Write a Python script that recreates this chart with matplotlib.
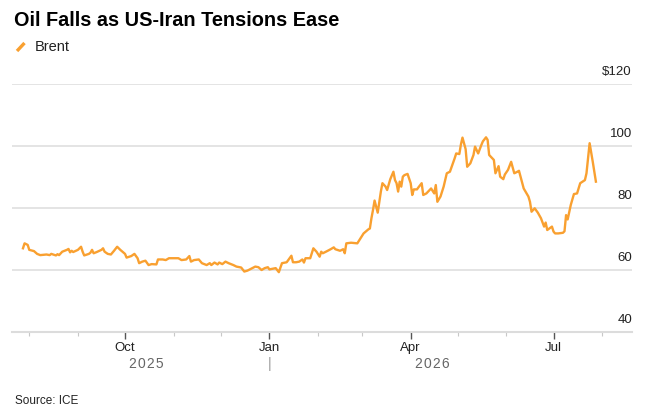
import matplotlib
matplotlib.use('Agg')
import matplotlib.pyplot as plt
import matplotlib.dates as mdates
import matplotlib.transforms as mtransforms
from matplotlib.lines import Line2D
import pandas as pd

# Brent daily close
dates = [
    '2025-07-28', '2025-07-29', '2025-07-31', '2025-08-01', '2025-08-04', '2025-08-06', '2025-08-08',
    '2025-08-12', '2025-08-14', '2025-08-15', '2025-08-18', '2025-08-19', '2025-08-20', '2025-08-22',
    '2025-08-25', '2025-08-26', '2025-08-27', '2025-08-28', '2025-08-29', '2025-09-01', '2025-09-03',
    '2025-09-04', '2025-09-05', '2025-09-08', '2025-09-09', '2025-09-10', '2025-09-11', '2025-09-13',
    '2025-09-16', '2025-09-17', '2025-09-18', '2025-09-20', '2025-09-22', '2025-09-24', '2025-09-26',
    '2025-09-28', '2025-10-01', '2025-10-02', '2025-10-05', '2025-10-07', '2025-10-09', '2025-10-10',
    '2025-10-12', '2025-10-14', '2025-10-16', '2025-10-18', '2025-10-21', '2025-10-22', '2025-10-25',
    '2025-10-27', '2025-10-29', '2025-10-30', '2025-11-04', '2025-11-06', '2025-11-09', '2025-11-11',
    '2025-11-12', '2025-11-14', '2025-11-17', '2025-11-19', '2025-11-22', '2025-11-24', '2025-11-25',
    '2025-11-27', '2025-11-29', '2025-11-30', '2025-12-02', '2025-12-04', '2025-12-06', '2025-12-09',
    '2025-12-11', '2025-12-14', '2025-12-16', '2025-12-18', '2025-12-21', '2025-12-23', '2025-12-25',
    '2025-12-27', '2025-12-29', '2025-12-31', '2026-01-01', '2026-01-03', '2026-01-05', '2026-01-07',
    '2026-01-09', '2026-01-12', '2026-01-13', '2026-01-15', '2026-01-16', '2026-01-18', '2026-01-20',
    '2026-01-22', '2026-01-23', '2026-01-24', '2026-01-27', '2026-01-29', '2026-01-31', '2026-02-02',
    '2026-02-03', '2026-02-04', '2026-02-06', '2026-02-09', '2026-02-11', '2026-02-12', '2026-02-15',
    '2026-02-17', '2026-02-18', '2026-02-19', '2026-02-22', '2026-02-26', '2026-02-28', '2026-03-02',
    '2026-03-05', '2026-03-06', '2026-03-07', '2026-03-08', '2026-03-09', '2026-03-11', '2026-03-13',
    '2026-03-14', '2026-03-16', '2026-03-17', '2026-03-19', '2026-03-21', '2026-03-22', '2026-03-23',
    '2026-03-24', '2026-03-25', '2026-03-26', '2026-03-27', '2026-03-28', '2026-03-30', '2026-04-01',
    '2026-04-02', '2026-04-03', '2026-04-05', '2026-04-06', '2026-04-08', '2026-04-09', '2026-04-11',
    '2026-04-13', '2026-04-14', '2026-04-16', '2026-04-17', '2026-04-18', '2026-04-20', '2026-04-22',
    '2026-04-24', '2026-04-26', '2026-04-27', '2026-04-29', '2026-04-30', '2026-05-02', '2026-05-03',
    '2026-05-04', '2026-05-06', '2026-05-07', '2026-05-09', '2026-05-11', '2026-05-12', '2026-05-14',
    '2026-05-16', '2026-05-17', '2026-05-19', '2026-05-20', '2026-05-21', '2026-05-23', '2026-05-24',
    '2026-05-25', '2026-05-27', '2026-05-28', '2026-05-30', '2026-05-31', '2026-06-02', '2026-06-04',
    '2026-06-06', '2026-06-08', '2026-06-09', '2026-06-10', '2026-06-12', '2026-06-15', '2026-06-16',
    '2026-06-17', '2026-06-19', '2026-06-21', '2026-06-23', '2026-06-25', '2026-06-26', '2026-06-27',
    '2026-06-30', '2026-07-01', '2026-07-02', '2026-07-04', '2026-07-07', '2026-07-08', '2026-07-09',
    '2026-07-10', '2026-07-12', '2026-07-14', '2026-07-16', '2026-07-18', '2026-07-21', '2026-07-22',
    '2026-07-24', '2026-07-26', '2026-07-28',
]
brent = [
    67.0, 68.6, 68.1, 66.5, 66.1, 65.2, 64.8,
    65.0, 64.8, 65.2, 64.7, 65.1, 64.8, 65.9,
    66.5, 66.8, 65.7, 66.2, 65.8, 66.5, 67.5,
    65.9, 64.7, 65.2, 65.6, 66.5, 65.4, 65.8,
    66.5, 67.0, 65.9, 65.2, 65.0, 66.2, 67.5,
    66.5, 65.2, 64.0, 64.5, 65.2, 63.8, 62.2,
    62.7, 63.0, 61.6, 61.9, 61.8, 63.4, 63.4,
    63.2, 63.8, 63.8, 63.8, 63.2, 63.4, 64.5,
    62.7, 63.2, 63.4, 62.2, 61.6, 62.2, 61.6,
    62.4, 61.8, 62.4, 61.9, 62.7, 62.2, 61.6,
    61.1, 60.8, 59.5, 59.8, 60.6, 61.1, 60.9,
    60.0, 60.6, 60.9, 60.2, 60.4, 60.6, 59.3,
    62.2, 62.5, 63.2, 64.6, 62.5, 62.5, 62.7,
    63.4, 62.4, 63.8, 63.8, 67.0, 65.9, 64.3,
    65.9, 65.4, 65.9, 66.7, 67.3, 66.7, 66.2,
    66.7, 65.4, 68.6, 68.8, 68.6, 70.2, 71.8,
    73.1, 73.4, 76.7, 79.4, 82.4, 78.5, 85.3,
    88.0, 86.9, 85.8, 89.3, 91.7, 89.0, 88.0,
    85.3, 88.5, 86.9, 90.1, 90.6, 91.0, 88.0,
    84.2, 86.0, 86.0, 86.7, 88.0, 84.2, 84.7,
    85.8, 86.3, 84.7, 87.4, 82.0, 83.7, 86.9,
    91.2, 91.7, 93.1, 96.0, 97.6, 97.4, 100.5,
    102.7, 99.0, 93.3, 94.4, 97.1, 99.8, 97.6,
    100.3, 101.5, 102.8, 102.0, 97.1, 96.0, 95.5,
    91.2, 93.5, 90.1, 89.3, 90.8, 92.3, 94.9,
    91.2, 91.7, 92.0, 90.1, 86.3, 83.7, 82.0,
    78.8, 79.9, 78.5, 76.7, 74.0, 75.3, 72.9,
    74.0, 72.4, 71.8, 71.8, 72.0, 72.5, 77.7,
    76.3, 81.0, 84.5, 84.7, 88.0, 89.0, 91.2,
    100.9, 94.9, 88.5,
]

y_ticks = [40, 60, 80, 100, 120]
y_labels = ['40', '60', '80', '100', '$120']

df = pd.DataFrame({'date': pd.to_datetime(dates), 'brent': brent})

plt.rcParams['font.family'] = ['Liberation Sans', 'DejaVu Sans']

W, H = 663, 417
fig = plt.figure(figsize=(W / 100, H / 100), dpi=100)
ax = fig.add_axes([12 / W, 1 - 332 / H, 620 / W, 248 / H])

ax.plot(df['date'], df['brent'], color='#f9a030', lw=1.7, solid_joinstyle='round', zorder=3)

ax.set_ylim(40, 120)
ax.set_xlim(pd.Timestamp('2025-07-21'), pd.Timestamp('2026-08-20'))
ax.set_yticks(y_ticks)
ax.tick_params(axis='y', length=0, labelleft=False, labelright=False)
ax.grid(axis='y', color='#e2e2e2', lw=1.3)
ax.set_axisbelow(True)

for s in ['left', 'right', 'top']:
    ax.spines[s].set_visible(False)
ax.spines['bottom'].set_color('#dcdcdc')
ax.spines['bottom'].set_linewidth(1.5)

ax.xaxis.set_major_locator(mdates.MonthLocator(bymonth=[1, 4, 7, 10]))
ax.xaxis.set_major_formatter(mdates.DateFormatter('%b'))
ax.xaxis.set_minor_locator(mdates.MonthLocator())
ax.tick_params(axis='x', which='major', length=5, width=1, color='#555555',
               labelsize=9.5, labelcolor='#222222', pad=2)
ax.tick_params(axis='x', which='minor', length=3, width=0.8, color='#c8c8c8')

# y labels sit above the gridlines, right-aligned
ytr = mtransforms.offset_copy(ax.get_yaxis_transform(), fig=fig, x=0, y=4, units='points')
for v, lab in zip(y_ticks, y_labels):
    ax.text(1.0, v, lab, transform=ytr, ha='right', va='bottom', fontsize=9.5, color='#222222')

# year labels under the month labels, centred on each year's stretch of data
xtr = mtransforms.offset_copy(ax.get_xaxis_transform(), fig=fig, x=0, y=-23, units='points')
jan = pd.Timestamp('2026-01-01')
first, last = df['date'].iloc[0], df['date'].iloc[-1]
sp = '\u200a'
ax.text(first + (jan - first) / 2, 0, sp.join('2025'), transform=xtr, ha='center', va='center',
        fontsize=10, color='#666666')
ax.text(jan + (last - jan) / 2, 0, sp.join('2026'), transform=xtr, ha='center', va='center',
        fontsize=10, color='#666666')
ax.text(jan, 0, '|', transform=xtr, ha='center', va='center', fontsize=10, color='#999999')

fig.text(14 / W, 1 - 21 / H, 'Oil Falls as US-Iran Tensions Ease', fontsize=14.3,
         fontweight='bold', va='center', ha='left', color='#000000')
fig.add_artist(Line2D([17 / W, 24.5 / W], [1 - 51 / H, 1 - 43 / H], color='#f9a030', lw=2.4,
                      solid_capstyle='butt'))
fig.text(35 / W, 1 - 47 / H, 'Brent', fontsize=10.5, va='center', ha='left', color='#222222')
fig.text(15 / W, 1 - 401 / H, 'Source: ICE', fontsize=8.5, va='center', ha='left', color='#222222')

fig.savefig('out.png', dpi=100, facecolor='white')
